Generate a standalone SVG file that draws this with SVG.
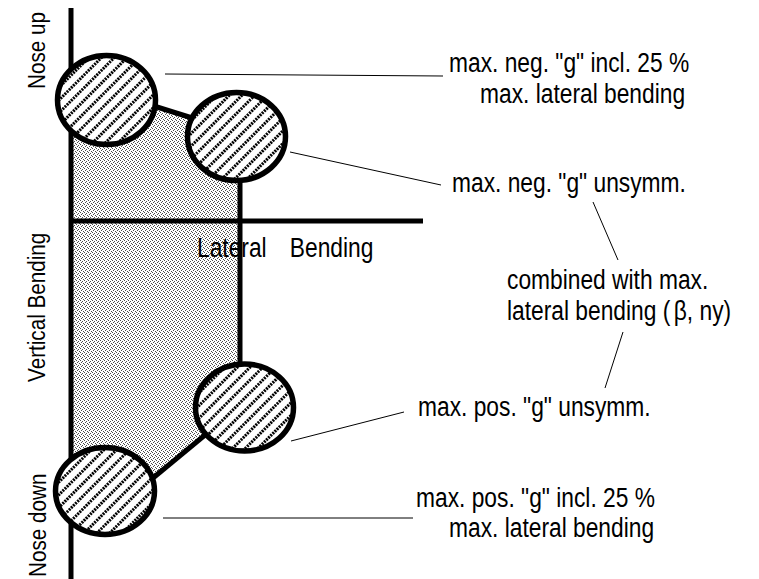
<svg xmlns="http://www.w3.org/2000/svg" width="759" height="579" viewBox="0 0 759 579">
<style>
  .t { font-family: "Liberation Sans", Arial, sans-serif; font-size: 27px; fill: #000; }
  .v { font-family: "Liberation Sans", Arial, sans-serif; font-size: 24.5px; fill: #000; }
  .axis { stroke: #000; stroke-width: 5; fill: none; }
  .edge { stroke: #000; stroke-width: 5; fill: none; stroke-linecap: butt; }
  .lead { stroke: #000; stroke-width: 1; fill: none; }
  .zone { fill: url(#hatch); stroke: #000; stroke-width: 5.5; }
</style>
<defs>
  <pattern id="stipple" width="4" height="4" patternUnits="userSpaceOnUse">
    <rect width="4" height="4" fill="#fff"/>
    <rect x="0" y="0" width="1" height="1" fill="#4a4a4a"/>
    <rect x="2" y="1" width="1" height="1" fill="#4a4a4a"/>
    <rect x="1" y="2" width="1" height="1" fill="#4a4a4a"/>
    <rect x="3" y="3" width="1" height="1" fill="#4a4a4a"/>
  </pattern>
  <pattern id="hatch" width="9" height="9" patternUnits="userSpaceOnUse" patternTransform="rotate(-45)">
    <rect width="9" height="9" fill="#fff"/>
    <line x1="0" y1="4.5" x2="9" y2="4.5" stroke="#000" stroke-width="3" stroke-dasharray="2 1"/>
  </pattern>
</defs>

<!-- shaded envelope -->
<g id="envelope">
  <polygon points="71,100 106,91 240,133 240,410 205,435 153,478 105,490 71,490" fill="url(#stipple)" stroke="none"/>
</g>

<!-- axis label -->
<g id="lateral-label">
  <text class="t" transform="translate(197,257) scale(0.844,1)">Lateral <tspan x="110">Bending</tspan></text>
</g>

<!-- axes and envelope edges -->
<g id="axes">
  <line class="axis" x1="71" y1="8" x2="71" y2="579"/>
  <line class="axis" x1="71" y1="221" x2="423" y2="221"/>
</g>
<g id="edges">
  <line class="edge" x1="106" y1="91" x2="240" y2="133"/>
  <line class="edge" x1="240" y1="133" x2="240" y2="410"/>
  <line class="edge" x1="205" y1="435" x2="153" y2="478"/>
</g>

<!-- load case zones -->
<g id="zone-neg-incl"><ellipse class="zone" cx="106.5" cy="100" rx="49" ry="44.5"/></g>
<g id="zone-neg-unsymm"><ellipse class="zone" cx="236.5" cy="136.5" rx="49" ry="44"/></g>
<g id="zone-pos-unsymm"><ellipse class="zone" cx="244.5" cy="407.5" rx="49" ry="43.5"/></g>
<g id="zone-pos-incl"><ellipse class="zone" cx="105" cy="491" rx="49.5" ry="43.5"/></g>

<!-- leader lines -->
<g id="connectors">
  <line class="lead" x1="165" y1="74" x2="443" y2="76"/>
  <line class="lead" x1="290" y1="152" x2="441" y2="185"/>
  <line class="lead" x1="593" y1="202" x2="618" y2="260"/>
  <line class="lead" x1="623" y1="332" x2="605" y2="388"/>
  <line class="lead" x1="291" y1="441" x2="404" y2="412"/>
  <line class="lead" x1="163" y1="518" x2="413" y2="518"/>
</g>

<!-- vertical labels -->
<g id="label-nose-up">
  <text class="v" transform="translate(45,89) rotate(-90) scale(0.844,1)">Nose up</text>
</g>
<g id="label-vertical">
  <text class="v" transform="translate(45,382) rotate(-90) scale(0.844,1)">Vertical Bending</text>
</g>
<g id="label-nose-down">
  <text class="v" transform="translate(46,577) rotate(-90) scale(0.844,1)">Nose down</text>
</g>

<!-- annotations -->
<g id="label-neg-incl">
  <text class="t" transform="translate(449,72) scale(0.844,1)">max. neg. &quot;g&quot; incl. 25 %</text>
  <text class="t" transform="translate(480,103) scale(0.844,1)">max. lateral bending</text>
</g>
<g id="label-neg-unsymm">
  <text class="t" transform="translate(452,192) scale(0.844,1)">max. neg. &quot;g&quot; unsymm.</text>
</g>
<g id="label-combined">
  <text class="t" transform="translate(507,289) scale(0.844,1)">combined with max.</text>
  <text class="t" transform="translate(507,320) scale(0.844,1)">lateral bending (<tspan dx="4">β</tspan>, ny)</text>
</g>
<g id="label-pos-unsymm">
  <text class="t" transform="translate(418,416) scale(0.844,1)">max. pos. &quot;g&quot; unsymm.</text>
</g>
<g id="label-pos-incl">
  <text class="t" transform="translate(416,507) scale(0.844,1)">max. pos. &quot;g&quot; incl. 25 %</text>
  <text class="t" transform="translate(449,537) scale(0.844,1)">max. lateral bending</text>
</g>
</svg>
